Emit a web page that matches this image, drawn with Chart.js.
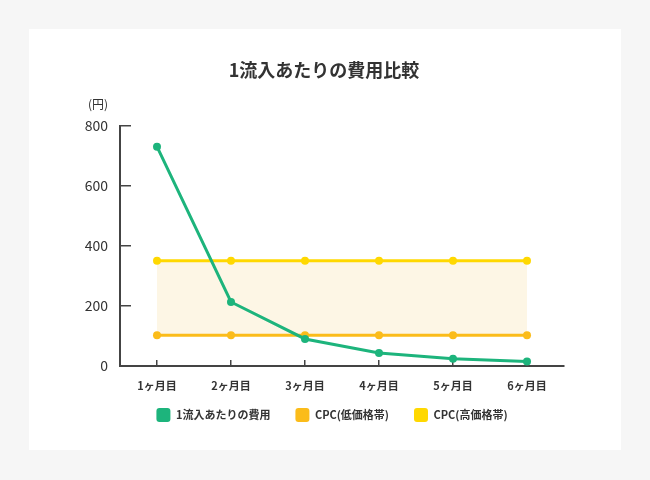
<!DOCTYPE html>
<html><head><meta charset="utf-8">
<script src="https://cdn.jsdelivr.net/npm/chart.js@4.4.0/dist/chart.umd.min.js"></script>
<style>
html,body{margin:0;padding:0;background:#f6f6f6;}
body{width:650px;height:480px;position:relative;overflow:hidden;}
#panel{position:absolute;left:29px;top:29px;width:592px;height:421px;background:#fff;}
canvas{display:block;}
</style></head><body>
<div id="panel"><canvas id="c" width="592" height="421"></canvas></div>
<script>
const FONT = '"Noto Sans CJK JP", "Noto Sans", sans-serif';
const chartTitle = '1流入あたりの費用比較';
const unitLabel = '(円)';
const categories = ['1ヶ月目', '2ヶ月目', '3ヶ月目', '4ヶ月目', '5ヶ月目', '6ヶ月目'];
const seriesNames = ['1流入あたりの費用', 'CPC(低価格帯)', 'CPC(高価格帯)'];
const costPerVisit = [730, 213, 90, 43, 24, 15];
const cpcLow = [102, 102, 102, 102, 102, 102];
const cpcHigh = [350, 350, 350, 350, 350, 350];
const yTicks = [0, 200, 400, 600, 800];

const GREEN = '#1db47c', ORANGE = '#fbbc1a', YELLOW = '#ffd800', BAND = '#fdf6e5', INK = '#333333', AXIS = '#444444';

const unitPlugin = {
  id: 'unitLabel',
  afterDraw(chart) {
    const y = chart.scales.y, ctx = chart.ctx;
    ctx.save();
    ctx.font = '12px ' + FONT;
    ctx.fillStyle = INK;
    ctx.textAlign = 'right';
    ctx.textBaseline = 'middle';
    ctx.fillText(unitLabel, y.right - 12, chart.chartArea.top - 21);
    ctx.restore();
  }
};

// nudge the legend block (row sits a bit right of centre and close under the axis labels)
const legendNudge = { dx: 8, dy: -11 };
const legendPlugin = {
  id: 'legendNudge',
  afterLayout(chart) {
    const lg = chart.legend;
    if (!lg) return;
    lg.left += legendNudge.dx; lg.right += legendNudge.dx;
    lg.top += legendNudge.dy; lg.bottom += legendNudge.dy;
  }
};

new Chart(document.getElementById('c'), {
  type: 'line',
  data: {
    labels: categories,
    datasets: [
      { label: seriesNames[0], data: costPerVisit, borderColor: GREEN, backgroundColor: GREEN, pointBackgroundColor: GREEN, borderWidth: 3, pointRadius: 4, pointBorderWidth: 0, fill: false, tension: 0 },
      { label: seriesNames[1], data: cpcLow, borderColor: ORANGE, backgroundColor: ORANGE, pointBackgroundColor: ORANGE, borderWidth: 3, pointRadius: 4, pointBorderWidth: 0, fill: false, tension: 0 },
      { label: seriesNames[2], data: cpcHigh, borderColor: YELLOW, backgroundColor: BAND, pointBackgroundColor: YELLOW, borderWidth: 3, pointRadius: 4, pointBorderWidth: 0, fill: 1, tension: 0 }
    ]
  },
  options: {
    responsive: false,
    animation: false,
    layout: { padding: { top: 0, left: 55, right: 57, bottom: 7 } },
    plugins: {
      title: { display: true, text: chartTitle, color: INK, font: { family: FONT, size: 18, weight: 'bold' }, padding: { top: 30, bottom: 45 } },
      legend: {
        position: 'bottom',
        labels: {
          boxWidth: 14, boxHeight: 14, padding: 25, color: INK,
          useBorderRadius: true, borderRadius: 3,
          font: { family: FONT, size: 11, weight: 'bold' },
          generateLabels(chart) {
            return chart.data.datasets.map((ds, i) => ({
              text: ds.label, fillStyle: ds.borderColor, strokeStyle: ds.borderColor,
              lineWidth: 0, hidden: false, datasetIndex: i, borderRadius: 3, fontColor: INK
            }));
          }
        }
      },
      tooltip: { enabled: false }
    },
    scales: {
      x: {
        offset: true,
        afterFit(s) { s.height = 28; },
        grid: { offset: false, drawOnChartArea: false, drawTicks: true, tickLength: -6, color: AXIS, lineWidth: 1.5 },
        border: { display: true, color: AXIS, width: 2 },
        ticks: { color: INK, padding: 19, maxRotation: 0, font: { family: FONT, size: 11, weight: 'bold' } }
      },
      y: {
        min: 0, max: 800,
        afterFit(s) { s.width = 36; },
        afterBuildTicks(s) { s.ticks = yTicks.map(v => ({ value: v })); },
        grid: { drawOnChartArea: false, drawTicks: true, tickLength: -11, color: AXIS, lineWidth: 1.5 },
        border: { display: true, color: AXIS, width: 2 },
        ticks: { color: INK, padding: 23, font: { family: FONT, size: 14 } }
      }
    }
  },
  plugins: [unitPlugin, legendPlugin]
});
</script>
</body></html>
